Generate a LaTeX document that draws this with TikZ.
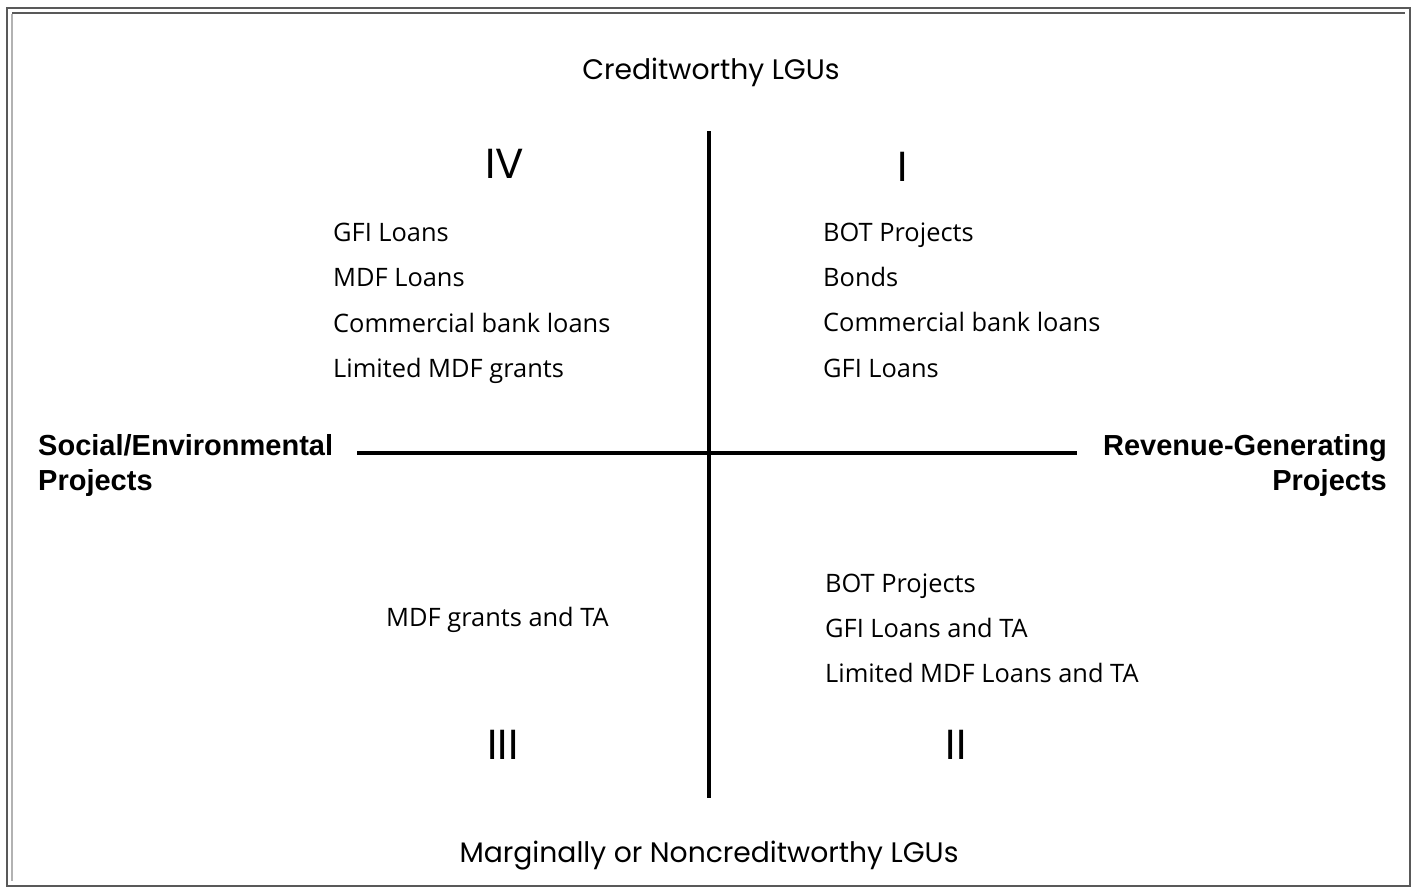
\documentclass[tikz,border=0pt]{standalone}
\usepackage{fontspec}
\setmainfont{Open Sans}
\newfontfamily\geofont{Poppins}
\newfontfamily\labfont{Liberation Sans}
\begin{document}
\begin{tikzpicture}[x=1pt,y=-1pt,
  title/.style={font=\geofont\fontsize{28.2}{32}\selectfont, anchor=base, inner sep=0},
  roman/.style={font=\geofont\fontsize{42}{48}\selectfont, anchor=base, inner sep=0},
  item/.style={font=\fontsize{25.4}{30}\selectfont, anchor=base west, inner sep=0},
  lableft/.style={font=\labfont\bfseries\fontsize{29}{35}\selectfont, anchor=base west, inner sep=0},
  labright/.style={font=\labfont\bfseries\fontsize{29}{35}\selectfont, anchor=base east, inner sep=0},
  axis/.style={line width=3.5pt},
  frameline/.style={line width=1.2pt, black!65}]
\useasboundingbox (0,0) rectangle (1414,887);
% frame
\draw[frameline] (7,8) rectangle (1410,886);
\draw[frameline] (12,13) -- (1405,13);
\draw[line width=2pt, black!30] (12,14) -- (12,881);
% axes
\coordinate (vt) at (709,131);
\coordinate (vb) at (709,798);
\coordinate (hl) at (357,453);
\coordinate (hr) at (1077,453);
\draw[axis] (vt) -- (vb);
\draw[axis] (hl) -- (hr);
% titles
\node[title] (top) at (711,79) {Creditworthy LGUs};
\node[title] (bot) at (709,862) {Marginally or Noncreditworthy LGUs};
% roman numerals
\node[roman] (q4) at (505,178) {IV};
\node[roman] (q1) at (903,181) {I};
\node[roman] (q3) at (503,759) {III};
\node[roman] (q2) at (956,759) {II};
% side labels
\node[lableft] (sl1) at (38,455) {Social/Environmental};
\node[lableft] (sl2) at (38,490) {Projects};
\node[labright] (rl1) at (1387,455) {Revenue-Generating};
\node[labright] (rl2) at (1387,490) {Projects};
% quadrant IV
\node[item] (a1) at (333,241) {GFI Loans};
\node[item] (a2) at (333,286.5) {MDF Loans};
\node[item] (a3) at (333,332) {Commercial bank loans};
\node[item] (a4) at (333,377) {Limited MDF grants};
% quadrant I
\node[item] (b1) at (823,241) {BOT Projects};
\node[item] (b2) at (823,286.5) {Bonds};
\node[item] (b3) at (823,331) {Commercial bank loans};
\node[item] (b4) at (823,377) {GFI Loans};
% quadrant II
\node[item] (c1) at (825,592) {BOT Projects};
\node[item] (c2) at (825,637) {GFI Loans and TA};
\node[item] (c3) at (825,682) {Limited MDF Loans and TA};
% quadrant III
\node[item] (d1) at (386,626) {MDF grants and TA};
\end{tikzpicture}
\end{document}
